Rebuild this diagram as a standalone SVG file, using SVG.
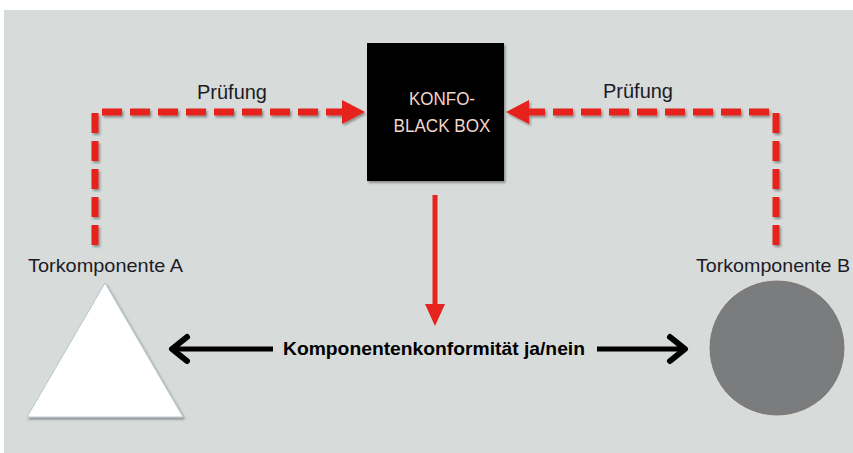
<svg xmlns="http://www.w3.org/2000/svg" width="853" height="453" viewBox="0 0 853 453">
<defs>
<style>
.lbl{font-family:"Liberation Sans",Arial,sans-serif;fill:#1c1c26;}
.box{font-family:"Liberation Sans",Arial,sans-serif;fill:#f2d6cc;font-size:18px;text-anchor:middle;}
.dash{fill:none;stroke:#e5231f;stroke-width:7;stroke-dasharray:20 8;stroke-linejoin:round;}
.redhead{fill:#e5231f;}
.blk{fill:none;stroke:#000;stroke-width:5;}
.chev{fill:none;stroke:#000;stroke-width:6;stroke-linecap:round;stroke-linejoin:round;}
</style>
<filter id="sh" x="-10%" y="-10%" width="130%" height="130%">
<feDropShadow dx="1.5" dy="2" stdDeviation="1.2" flood-color="#000" flood-opacity="0.35"/>
</filter>
</defs>
<rect x="0" y="0" width="853" height="453" fill="#ffffff"/>
<rect x="4" y="10" width="849" height="443" fill="#d7dbda"/>

<g id="connectors">
<g filter="url(#sh)">
<path class="dash" d="M95,245 L95,112 L344,112"/>
<polygon class="redhead" points="365,112 342,100 342,124"/>
<path class="dash" d="M776,245 L776,112 L528,112"/>
<polygon class="redhead" points="506,112 529,100 529,124"/>
</g>
<line x1="435" y1="195" x2="435" y2="306" stroke="#e5231f" stroke-width="5"/>
<polygon class="redhead" points="435,326 425,304 445,304"/>
<line class="blk" x1="174" y1="349" x2="273" y2="349"/>
<polyline class="chev" points="187,337 172,349 187,361"/>
<line class="blk" x1="597" y1="349" x2="683" y2="349"/>
<polyline class="chev" points="670,337 685,349 670,361"/>
</g>

<g id="blackbox">
<rect x="367" y="43" width="137" height="138" fill="#000" filter="url(#sh)"/>
<text class="box" x="442" y="105" textLength="66" lengthAdjust="spacingAndGlyphs">KONFO-</text>
<text class="box" x="442" y="132" textLength="97" lengthAdjust="spacingAndGlyphs">BLACK BOX</text>
</g>

<g id="label-pruefung-left">
<text class="lbl" x="197" y="99" font-size="20" textLength="70" lengthAdjust="spacingAndGlyphs">Prüfung</text>
</g>
<g id="label-pruefung-right">
<text class="lbl" x="603" y="98" font-size="20" textLength="70" lengthAdjust="spacingAndGlyphs">Prüfung</text>
</g>

<g id="torkomponente-a">
<text class="lbl" x="28" y="272" font-size="19" textLength="155" lengthAdjust="spacingAndGlyphs">Torkomponente A</text>
<polygon points="105,283 27,417 183,417" fill="#ffffff" stroke="#b6c6cf" stroke-width="1" filter="url(#sh)"/>
</g>

<g id="torkomponente-b">
<text class="lbl" x="696" y="272" font-size="19" textLength="154" lengthAdjust="spacingAndGlyphs">Torkomponente B</text>
<ellipse cx="777" cy="348" rx="68" ry="68" fill="#7a7c7d" stroke="#e8dcd6" stroke-width="1"/>
</g>

<g id="konformitaet">
<text class="lbl" x="283" y="355" font-size="19" font-weight="bold" textLength="302" lengthAdjust="spacingAndGlyphs" style="fill:#000">Komponentenkonformität ja/nein</text>
</g>
</svg>
